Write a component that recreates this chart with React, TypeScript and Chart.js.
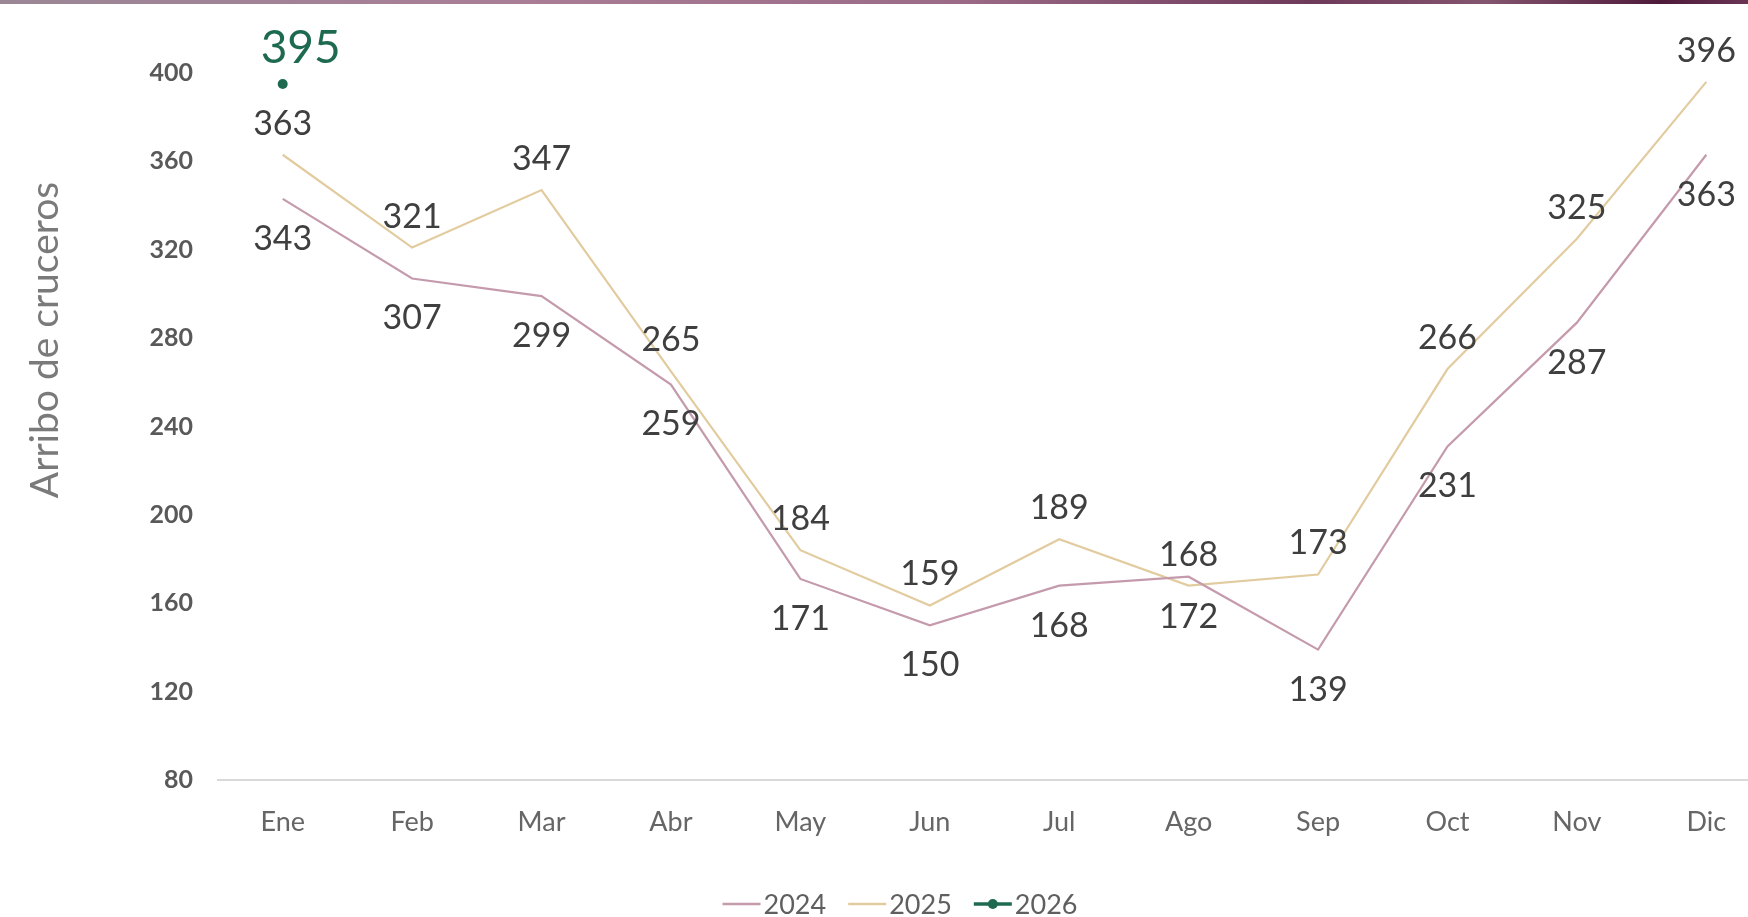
import React, { useEffect, useRef } from "react";
import { Chart, registerables } from "chart.js";

Chart.register(...registerables);

const months = ["Ene", "Feb", "Mar", "Abr", "May", "Jun", "Jul", "Ago", "Sep", "Oct", "Nov", "Dic"];
const values2024 = [343, 307, 299, 259, 171, 150, 168, 172, 139, 231, 287, 363];
const values2025 = [363, 321, 347, 265, 184, 159, 189, 168, 173, 266, 325, 396];
const values2026 = [395, null, null, null, null, null, null, null, null, null, null, null];
const seriesNames = ["2024", "2025", "2026"];
const yTitle = "Arribo de cruceros";

const COL_2024 = "#c49aac";
const COL_2025 = "#e2cc9f";
const COL_2026 = "#1e6a50";
const FONT = "Lato, 'Open Sans', sans-serif";

const labelCfg = [
  { dx: 0, dy: 40, size: 34, color: "#3f3f3f" },
  { dx: 0, dy: -31, size: 34, color: "#3f3f3f" },
  { dx: 18, dy: -36, size: 46, color: COL_2026 },
];

const labelsPlugin = {
  id: "customLabels",
  afterDatasetsDraw(chart: any) {
    const ctx = chart.ctx;
    ctx.save();
    chart.data.datasets.forEach((ds: any, i: number) => {
      const meta = chart.getDatasetMeta(i);
      const cfg = labelCfg[i];
      ctx.font = `400 ${cfg.size}px ${FONT}`;
      ctx.fillStyle = cfg.color;
      ctx.textAlign = "center";
      ctx.textBaseline = "middle";
      meta.data.forEach((el: any, j: number) => {
        const v = ds.data[j];
        if (v === null || v === undefined) return;
        ctx.fillText(String(v), el.x + cfg.dx, el.y + cfg.dy);
      });
    });
    ctx.restore();
  },
  afterDraw(chart: any) {
    const ctx = chart.ctx;
    ctx.save();
    // y-axis title
    ctx.translate(45, 340);
    ctx.rotate(-Math.PI / 2);
    ctx.font = `400 39px ${FONT}`;
    ctx.fillStyle = "#7a7a7a";
    ctx.textAlign = "center";
    ctx.textBaseline = "middle";
    ctx.fillText(yTitle, 0, 0);
    ctx.restore();

    // legend
    ctx.save();
    ctx.font = `400 27px ${FONT}`;
    ctx.textBaseline = "middle";
    ctx.textAlign = "left";
    const cols = [COL_2024, COL_2025, COL_2026];
    const lineLen = 38;
    const gap = 3;
    const itemGap = 22;
    const widths = seriesNames.map((n) => ctx.measureText(n).width);
    const total = widths.reduce((a, w) => a + lineLen + gap + w, 0) + itemGap * (seriesNames.length - 1);
    let x = 900 - total / 2;
    const y = 904;
    seriesNames.forEach((n, i) => {
      ctx.strokeStyle = cols[i];
      ctx.lineWidth = i === 2 ? 3.5 : 2.5;
      ctx.beginPath();
      ctx.moveTo(x, y);
      ctx.lineTo(x + lineLen, y);
      ctx.stroke();
      if (i === 2) {
        ctx.fillStyle = cols[i];
        ctx.beginPath();
        ctx.arc(x + lineLen / 2, y, 5, 0, Math.PI * 2);
        ctx.fill();
      }
      ctx.fillStyle = "#5f5f5f";
      ctx.fillText(n, x + lineLen + gap, y + 1);
      x += lineLen + gap + widths[i] + itemGap;
    });
    ctx.restore();
  },
};

export default function App() {
  const ref = useRef<HTMLCanvasElement | null>(null);
  useEffect(() => {
    if (!ref.current) return;
    const chart = new Chart(ref.current, {
      type: "line",
      data: {
        labels: months,
        datasets: [
          {
            label: seriesNames[0],
            data: values2024,
            borderColor: COL_2024,
            backgroundColor: COL_2024,
            borderWidth: 2.2,
            pointRadius: 0,
            tension: 0,
          },
          {
            label: seriesNames[1],
            data: values2025,
            borderColor: COL_2025,
            backgroundColor: COL_2025,
            borderWidth: 2.2,
            pointRadius: 0,
            tension: 0,
          },
          {
            label: seriesNames[2],
            data: values2026,
            borderColor: COL_2026,
            backgroundColor: COL_2026,
            borderWidth: 3,
            pointRadius: 5,
            pointBorderWidth: 0,
          },
        ],
      },
      options: {
        responsive: false,
        animation: false,
        devicePixelRatio: 1,
        layout: { padding: { top: 73, right: 2, left: 0, bottom: 0 } },
        plugins: {
          legend: { display: false },
          tooltip: { enabled: false },
        },
        scales: {
          x: {
            offset: true,
            grid: { display: false, drawTicks: false },
            border: { display: true, color: "#d9d9d9", width: 2 },
            ticks: {
              color: "#666666",
              font: { family: FONT, size: 27 },
              padding: 26,
              maxRotation: 0,
            },
            afterFit: (s: any) => {
              s.height = 137;
            },
          },
          y: {
            min: 80,
            max: 400,
            grid: { display: false, drawTicks: false },
            border: { display: false },
            ticks: {
              stepSize: 40,
              color: "#595959",
              font: { family: FONT, size: 25, weight: "bold" },
              padding: 25,
            },
            afterFit: (s: any) => {
              s.width = 218;
            },
          },
        },
      },
      plugins: [labelsPlugin],
    });
    return () => chart.destroy();
  }, []);

  return (
    <div
      style={{
        position: "absolute",
        left: 0,
        top: 0,
        width: 1748,
        height: 917,
        overflow: "hidden",
        background: "#ffffff",
      }}
    >
      <div
        style={{
          position: "absolute",
          left: 0,
          top: 0,
          width: 1748,
          height: 4,
          background:
            "linear-gradient(90deg, #9a8796 0%, #a97d96 30%, #9a6a86 55%, #6e3a5a 75%, #84556f 85%, #4e1a3a 95%, #6a3554 100%)",
          zIndex: 2,
        }}
      />
      <canvas ref={ref} width={1776} height={917} style={{ position: "absolute", left: 0, top: 0, width: 1776, height: 917 }} />
    </div>
  );
}
